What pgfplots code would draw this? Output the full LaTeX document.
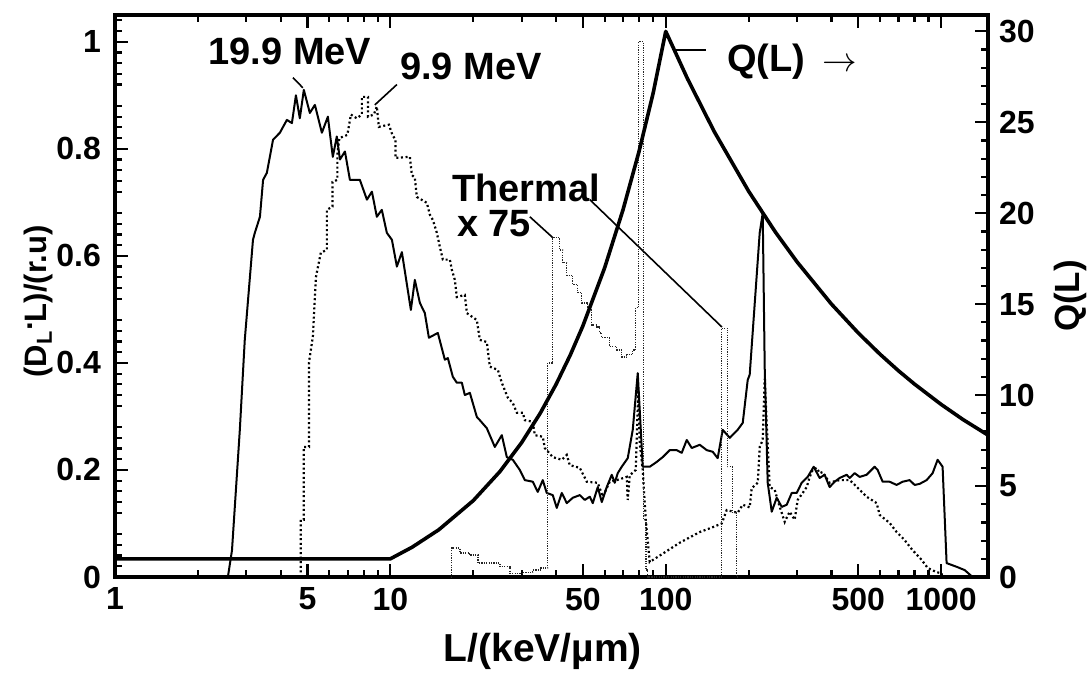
\documentclass[border=0pt]{standalone}
\usepackage{pgfplots}
\pgfplotsset{compat=1.18}
\usepackage{fontspec}
\setmainfont{Liberation Sans}
\begin{document}
\begin{tikzpicture}
\begin{axis}[
  at={(0,0)}, anchor=south west, scale only axis,
  width=436.5pt, height=281pt,
  xmode=log, xmin=1, xmax=1480,
  ymin=0, ymax=1.05,
  axis line style={line width=1.7pt},
  tick align=inside,
  major tick length=6.5pt, minor tick length=3.5pt,
  every tick/.append style={line width=1.1pt, black},
  tick label style={font=\fontsize{16}{16}\selectfont\bfseries},
  /pgf/number format/assume math mode=true,
  xtick={1,5,10,50,100,500,1000}, xticklabels={1,5,10,50,100,500,1000},
  minor xtick={2,3,4,6,7,8,9,20,30,40,60,70,80,90,200,300,400,600,700,800,900},
  ytick={0,0.2,0.4,0.6,0.8,1}, yticklabels={0,0.2,0.4,0.6,0.8,1},
  minor ytick={0.02,0.04,0.06,0.08,0.12,0.14,0.16,0.18,0.22,0.24,0.26,0.28,0.32,0.34,0.36,0.38,0.42,0.44,0.46,0.48,0.52,0.54,0.56,0.58,0.62,0.64,0.66,0.68,0.72,0.74,0.76,0.78,0.82,0.84,0.86,0.88,0.92,0.94,0.96,0.98,1.02,1.04},
  ytick pos=left, xtick pos=both,
  xticklabel style={yshift=-1.8pt},
  yticklabel style={xshift=-3.5pt},
  xlabel={L/(keV/µm)},
  ylabel={(D\textsubscript{L}\raisebox{0.45em}{.}L)/(r.u)},
  xlabel style={font=\fontsize{19.5}{19.5}\selectfont\bfseries, at={(axis description cs:0.49,-0.151)}, anchor=base},
  ylabel style={font=\fontsize{15.5}{15.5}\selectfont\bfseries, at={(axis description cs:-0.078,0.49)}, anchor=base},
]
% 19.9 MeV
\addplot[black, line width=1.0pt, line join=round] coordinates {
(2.57,0) (2.66,0.05) (2.84,0.275) (2.96,0.443) (3.17,0.63) (3.22,0.643) (3.36,0.673) (3.45,0.742) (3.56,0.755) (3.75,0.817) (3.97,0.83) (4.21,0.854) (4.39,0.848) (4.54,0.90) (4.69,0.857) (4.85,0.91) (5.10,0.867) (5.32,0.882) (5.64,0.83) (5.93,0.86) (6.18,0.785) (6.39,0.823) (6.56,0.78) (6.84,0.795) (7.13,0.742) (7.75,0.742) (8.22,0.705) (8.57,0.72) (8.93,0.673) (9.31,0.686) (9.71,0.643) (10.13,0.63) (10.56,0.58) (11.01,0.607) (11.87,0.499) (12.27,0.555) (12.80,0.512) (13.34,0.493) (13.80,0.447) (14.87,0.456) (15.77,0.406) (16.17,0.409) (16.86,0.374) (17.43,0.363) (18.18,0.363) (18.64,0.34) (19.44,0.344) (20.61,0.299) (21.13,0.293) (22.40,0.278) (23.95,0.243) (25.39,0.265) (26.48,0.224) (27.84,0.219) (29.52,0.20) (30.78,0.181) (32.90,0.178) (34.30,0.159) (35.77,0.181) (36.98,0.157) (38.89,0.153) (40.21,0.129) (41.93,0.157) (43.72,0.138) (45.96,0.148) (48.73,0.153) (50.82,0.144) (52.99,0.15) (54.33,0.138) (56.65,0.168) (58.58,0.14) (61.07,0.168) (63.68,0.191) (65.29,0.176) (66.95,0.194) (69.22,0.206) (72.78,0.222) (75.90,0.275) (79.14,0.381) (82.51,0.206) (87.48,0.206) (92.75,0.215) (97.52,0.224) (103.4,0.237) (109.6,0.237) (114.3,0.232) (119.2,0.256) (124.3,0.241) (132.9,0.247) (140.9,0.237) (148.1,0.234) (154.4,0.222) (161.0,0.275) (170.8,0.26) (182.5,0.275) (190.4,0.288) (198.5,0.368) (201.8,0.378) (219.4,0.643) (225.0,0.68) (228.8,0.39) (234.6,0.176) (242.6,0.122) (252.9,0.148) (263.8,0.131) (275.0,0.135) (286.8,0.157) (299.0,0.157) (311.7,0.176) (327.7,0.187) (344.6,0.206) (362.2,0.185) (377.6,0.191) (393.7,0.168) (410.6,0.178) (428.1,0.185) (453.9,0.191) (465.5,0.185) (485.3,0.194) (506.0,0.187) (536.5,0.191) (573.6,0.206) (588.2,0.20) (613.4,0.178) (650.3,0.178) (689.5,0.172) (724.9,0.178) (768.6,0.181) (801.4,0.172) (835.6,0.174) (886.0,0.181) (931.5,0.194) (971.2,0.219) (1012.5,0.206) (1047,0.026) (1139,0.019) (1217,0.013) (1301,0.0)
};
% 9.9 MeV
\addplot[black, line width=1.1pt, dash pattern=on 1.0pt off 1.3pt] coordinates {
(4.73,0) (4.73,0.107) (4.85,0.107) (4.85,0.243) (5.06,0.243) (5.06,0.40) (5.23,0.449) (5.37,0.561) (5.59,0.606) (5.88,0.611) (5.88,0.686) (6.16,0.692) (6.16,0.738) (6.42,0.742) (6.42,0.79) (6.53,0.82) (6.98,0.826) (7.19,0.864) (7.55,0.857) (7.88,0.864) (7.88,0.897) (8.29,0.897) (8.29,0.86) (8.71,0.864) (8.93,0.879) (9.08,0.841) (9.88,0.845) (10.17,0.826) (10.43,0.817) (10.43,0.783) (11.77,0.785) (11.97,0.751) (12.27,0.746) (12.48,0.71) (13.57,0.699) (13.91,0.677) (14.27,0.667) (14.75,0.643) (15.12,0.617) (15.51,0.593) (16.44,0.593) (16.72,0.574) (17.15,0.555) (17.43,0.523) (18.64,0.527) (18.96,0.493) (20.61,0.48) (21.13,0.443) (22.40,0.439) (22.97,0.393) (24.56,0.387) (25.39,0.363) (26.70,0.335) (27.84,0.325) (28.79,0.307) (30.26,0.307) (30.78,0.293) (32.90,0.29) (33.46,0.265) (35.77,0.262) (36.38,0.241) (38.89,0.224) (41.93,0.219) (43.72,0.228) (44.82,0.209) (48.73,0.204) (51.67,0.178) (56.65,0.176) (59.06,0.15) (62.61,0.178) (66.39,0.181) (72.17,0.187) (72.78,0.144) (74.02,0.19) (77.83,0.2) (79.5,0.35) (80.45,0.25) (82.51,0.2) (84.6,0.107) (87.48,0.028) (112.4,0.064) (132.9,0.084) (148.1,0.093) (159.7,0.10) (166.5,0.125) (182.5,0.12) (190.4,0.135) (201.8,0.13) (205.2,0.166) (215.8,0.176) (219.4,0.243) (225.0,0.256) (228.8,0.37) (232,0.3) (238.5,0.168) (248.7,0.163) (259.4,0.131) (270.4,0.103) (281.9,0.122) (293.9,0.107) (301.4,0.144) (314.4,0.157) (325.0,0.168) (333.3,0.187) (341.7,0.2) (353.3,0.204) (362.2,0.194) (371.4,0.196) (393.7,0.176) (403.7,0.178) (428.1,0.181) (465.5,0.181) (477.3,0.176) (506.0,0.163) (536.5,0.15) (583.3,0.138) (598.4,0.116) (650.3,0.101) (689.5,0.084) (737.1,0.069) (788.0,0.05) (849.8,0.032) (893.4,0.017) (963.1,0.009) (1004,0.007) (1010,0)
};
% Thermal x 75
\addplot[const plot, black!85, line width=0.6pt, dash pattern=on 0.6pt off 0.6pt] coordinates {
(16.6,0) (16.7,0.054) (17.9,0.045) (19.4,0.041) (20.8,0.026) (25.0,0.019) (27.2,0.007) (30.3,0.009) (32.9,0.013) (35.0,0.017) (37.3,0.40) (38.9,0.634) (41.2,0.611) (42.3,0.587) (43.7,0.564) (46.0,0.546) (47.9,0.531) (49.6,0.512) (52.1,0.499) (53.9,0.471) (56.2,0.467) (57.5,0.456) (58.6,0.447) (62.6,0.43) (66.4,0.424) (69.2,0.411) (72.2,0.415) (75.9,0.424) (77.8,0.503) (79.8,1.0) (83.0,0.107) (84.8,0.013) (86.0,0) (159.7,0.465) (167.2,0.206) (174.3,0.121) (181,0) (182,0)
};
% annotations
\node[anchor=base west, inner sep=0, font=\fontsize{19}{19}\selectfont\bfseries] at (axis cs:2.18,0.957) {19.9 MeV};
\node[anchor=base west, inner sep=0, font=\fontsize{19}{19}\selectfont\bfseries] at (axis cs:10.83,0.929) {9.9 MeV};
\node[anchor=base west, inner sep=0, font=\fontsize{19}{19}\selectfont\bfseries] at (axis cs:16.72,0.701) {Thermal};
\node[anchor=base west, inner sep=0, font=\fontsize{19}{19}\selectfont\bfseries] at (axis cs:17.43,0.636) {x 75};
\node[anchor=base west, inner sep=0, font=\fontsize{19}{19}\selectfont\bfseries] at (axis cs:166.5,0.944) {Q(L) \,$\rightarrow$};
\draw[line width=0.8pt] (axis cs:4.43,0.933) -- (axis cs:4.81,0.914);
\draw[line width=0.8pt] (axis cs:8.78,0.882) -- (axis cs:10.56,0.92);
\draw[line width=0.8pt] (axis cs:32.1,0.673) -- (axis cs:38.9,0.634);
\draw[line width=0.8pt] (axis cs:53.0,0.705) -- (axis cs:160,0.467);
\draw[line width=0.8pt] (axis cs:107.8,0.985) -- (axis cs:139.7,0.985);
\end{axis}
\begin{axis}[
  at={(0,0)}, anchor=south west, scale only axis,
  width=436.5pt, height=281pt,
  xmode=log, xmin=1, xmax=1480,
  ymin=0, ymax=30.9,
  axis x line=none, axis y line*=right,
  axis line style={line width=1.7pt},
  tick align=inside,
  major tick length=6.5pt, minor tick length=3.5pt,
  every tick/.append style={line width=1.1pt, black},
  tick label style={font=\fontsize{16}{16}\selectfont\bfseries},
  /pgf/number format/assume math mode=true,
  ytick={0,5,10,15,20,25,30}, yticklabels={0,5,10,15,20,25,30},
  minor ytick={1,2,3,4,6,7,8,9,11,12,13,14,16,17,18,19,21,22,23,24,26,27,28,29},
  yticklabel style={xshift=2pt},
  ylabel={Q(L)},
  ylabel style={font=\fontsize{17.5}{17.5}\selectfont\bfseries, at={(axis description cs:1.105,0.5)}, anchor=base},
]
\addplot[black, line width=1.8pt, line join=round] coordinates {
(1,1.0) (10,1.0) (12,1.64) (15,2.6) (20,4.2) (25,5.8) (30,7.4) (35,9.0) (40,10.6) (45,12.2) (50,13.8) (60,17.0) (70,20.2) (80,23.4) (90,26.6) (100,30.0) (120,27.39) (150,24.49) (200,21.21) (250,18.97) (300,17.32) (400,15.0) (500,13.42) (600,12.25) (700,11.34) (800,10.61) (1000,9.49) (1200,8.66) (1480,7.80)
};
\end{axis}
\pgfresetboundingbox
\path (-57.5pt,-49pt) rectangle (486.5pt,288.5pt);
\end{tikzpicture}
\end{document}
